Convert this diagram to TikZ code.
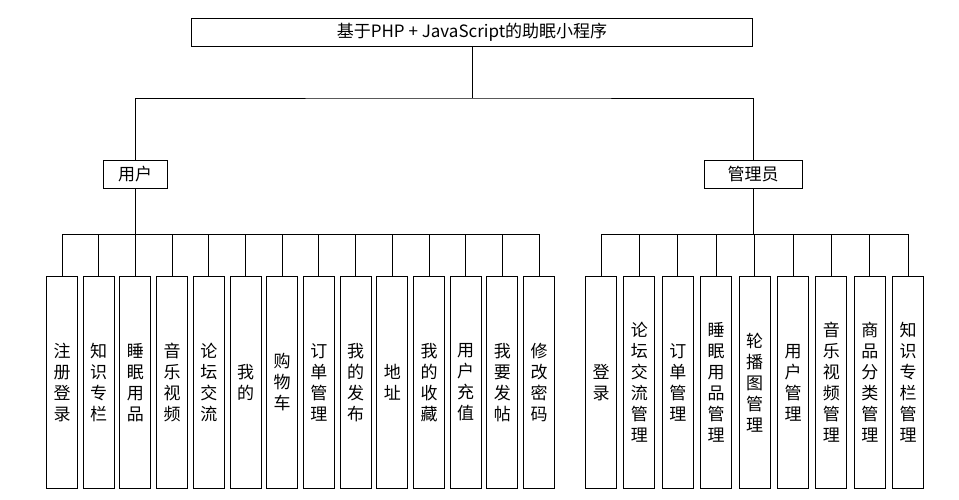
\documentclass[tikz,border=0pt]{standalone}
\usepackage{fontspec}
\setmainfont{Noto Sans CJK SC}
\begin{document}
\begin{tikzpicture}[x=1pt,y=-1pt,line width=1pt,
  box/.style={draw,fill=white,inner sep=0pt,font=\fontsize{17}{17}\selectfont},
  leaf/.style={draw,minimum width=31pt,minimum height=212pt,inner sep=0pt,font=\fontsize{17}{21}\selectfont,align=center,anchor=north}]
\useasboundingbox (0,0) rectangle (959,499);
\node[box,minimum width=561pt,minimum height=28pt] (root) at (472,32) {基于PHP + JavaScript的助眠小程序};
\node[box,minimum width=64pt,minimum height=28pt] (u) at (135,174) {用户};
\node[box,minimum width=98pt,minimum height=28pt] (a) at (753,174) {管理员};
\draw (root.south) -- (472,98) coordinate (m);
\draw (u.north) |- (m) -| (a.north);
\coordinate (ub) at (135,234);
\coordinate (ab) at (753,234);
\draw (u.south) -- (ub);
\draw (a.south) -- (ab);
\foreach \t [count=\i] in {注\\册\\登\\录,知\\识\\专\\栏,睡\\眠\\用\\品,音\\乐\\视\\频,论\\坛\\交\\流,我\\的,购\\物\\车,订\\单\\管\\理,我\\的\\发\\布,地\\址,我\\的\\收\\藏,用\\户\\充\\值,我\\要\\发\\帖,修\\改\\密\\码}{
  \node[leaf] (l\i) at ({62+(\i-1)*36.7},276) {\t};
  \draw (l\i.north) -- ({62+(\i-1)*36.7},234);
}
\draw (l1.north |- ub) -- (l14.north |- ub);
\foreach \t [count=\i] in {登\\录,论\\坛\\交\\流\\管\\理,订\\单\\管\\理,睡\\眠\\用\\品\\管\\理,轮\\播\\图\\管\\理,用\\户\\管\\理,音\\乐\\视\\频\\管\\理,商\\品\\分\\类\\管\\理,知\\识\\专\\栏\\管\\理}{
  \node[leaf] (r\i) at ({601+(\i-1)*38.4},276) {\t};
  \draw (r\i.north) -- ({601+(\i-1)*38.4},234);
}
\draw (r1.north |- ab) -- (r9.north |- ab);
\end{tikzpicture}
\end{document}
